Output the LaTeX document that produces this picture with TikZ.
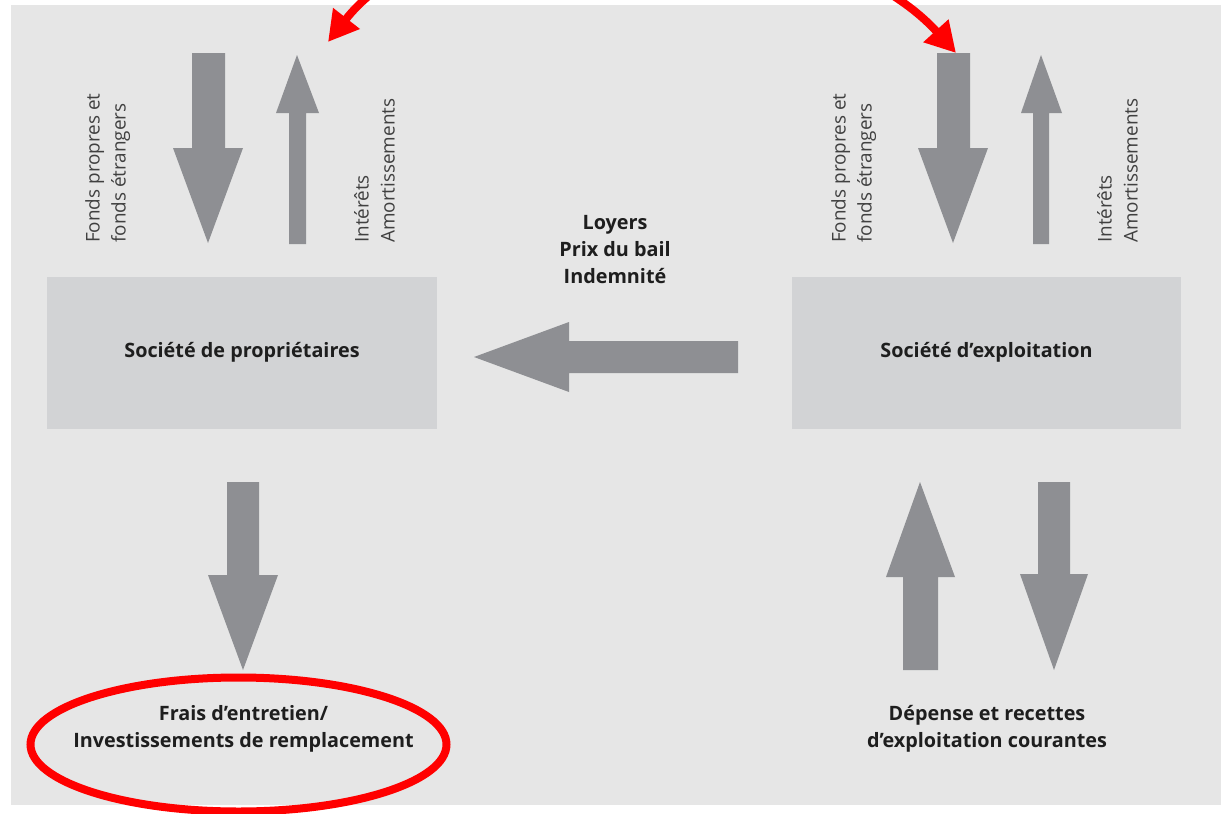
\documentclass[tikz,border=0pt]{standalone}
\usepackage{fontspec}
\setmainfont{Open Sans}
\usetikzlibrary{arrows.meta}
\definecolor{bggray}{HTML}{E6E6E6}
\definecolor{boxgray}{HTML}{D2D3D5}
\definecolor{arrgray}{HTML}{8E8F93}
\definecolor{txt}{HTML}{1E1E1E}
\definecolor{hired}{HTML}{FF0000}
\begin{document}
\begin{tikzpicture}[x=1pt,y=-1pt,
  blockarrow/.style={fill=arrgray},
  boxnode/.style={fill=boxgray, minimum height=152pt, inner sep=0pt, font=\fontsize{19.8}{24}\selectfont\bfseries, text=txt},
  vlabel/.style={rotate=90, anchor=north west, inner sep=0pt, align=left, font=\fontsize{18.9}{26}\selectfont, text=txt!85},
  blabel/.style={align=center, inner sep=0pt, font=\fontsize{19.8}{27}\selectfont\bfseries, text=txt},
  redmark/.style={draw=hired, line width=8pt}]
\useasboundingbox (0,0) rectangle (1221,814);
\clip (0,0) rectangle (1221,814);
\fill[bggray] (11,5) rectangle (1221,805);

% boxes
\node[boxnode, minimum width=390pt] (prop) at (242,352.5) {Société de propriétaires};
\node[boxnode, minimum width=389pt] (expl) at (986.5,352.5) {Société d’exploitation};

% top-left arrows
\fill[blockarrow] (192,53) -- (225,53) -- (225,148) -- (243,148) -- (208,243) -- (173,148) -- (192,148) -- cycle;
\fill[blockarrow] (289,244) -- (306,244) -- (306,113) -- (319,113) -- (297,55) -- (276,113) -- (289,113) -- cycle;
% top-right arrows
\fill[blockarrow] (937,53) -- (970,53) -- (970,148) -- (988,148) -- (953,243) -- (918,148) -- (937,148) -- cycle;
\fill[blockarrow] (1033,244) -- (1049,244) -- (1049,113) -- (1062,113) -- (1041,55) -- (1021,113) -- (1033,113) -- cycle;
% horizontal arrow
\fill[blockarrow] (738,341) -- (738,373) -- (569,373) -- (569,392) -- (474,357) -- (569,322) -- (569,341) -- cycle;
% bottom arrows
\fill[blockarrow] (227,482) -- (259,482) -- (259,575) -- (278,575) -- (243,670) -- (208,575) -- (227,575) -- cycle;
\fill[blockarrow] (903,670) -- (938,670) -- (938,577) -- (955,577) -- (920,482) -- (886,577) -- (903,577) -- cycle;
\fill[blockarrow] (1038,482) -- (1070,482) -- (1070,574) -- (1088,574) -- (1054,670) -- (1020,574) -- (1038,574) -- cycle;

% vertical labels
\node[vlabel] (fpl) at (85,243) {Fonds propres et\\fonds étrangers};
\node[vlabel] (ial) at (354,243) {Intérêts\\Amortissements};
\node[vlabel] (fpr) at (831,243) {Fonds propres et\\fonds étrangers};
\node[vlabel] (iar) at (1097,243) {Intérêts\\Amortissements};

% bold labels
\node[blabel] (loyers) at (615,250) {Loyers\\Prix du bail\\Indemnité};
\node[blabel] (frais) at (243.5,729) {Frais d’entretien/\\Investissements de remplacement};
\node[blabel] (dep) at (987,728.5) {Dépense et recettes\\d’exploitation courantes};

% red highlights
\draw[redmark] (238.5,744.5) ellipse [x radius=208, y radius=67];
\coordinate (ra) at (328,42);
\coordinate (rb) at (956,53);
\draw[redmark, {Triangle[length=30pt,width=32pt]}-{Triangle[length=30pt,width=32pt]}]
  (ra) .. controls (452,-116) and (822,-95) .. (rb);
\end{tikzpicture}
\end{document}
